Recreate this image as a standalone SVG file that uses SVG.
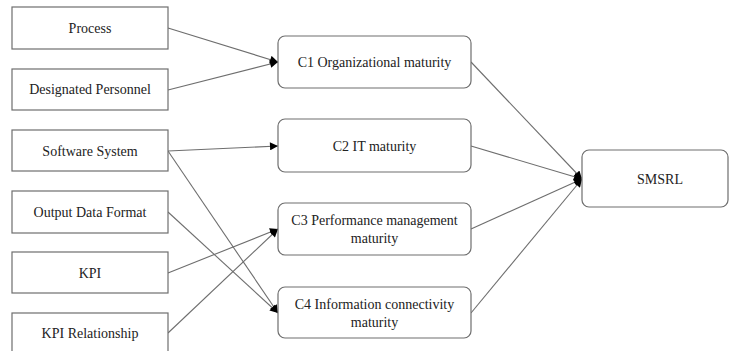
<svg xmlns="http://www.w3.org/2000/svg" width="729" height="351" viewBox="0 0 729 351">
<style>
.box{fill:#fff;stroke:#6e6e6e;stroke-width:1.2}
.t{font-family:'Liberation Serif','Times New Roman',serif;font-size:14px;fill:#222;text-anchor:middle}
.c{stroke:#6e6e6e;stroke-width:1.1;fill:none;marker-end:url(#ah)}
</style>
<defs>
<marker id="ah" viewBox="0 0 10 10" refX="10" refY="5" markerWidth="10" markerHeight="8" markerUnits="userSpaceOnUse" orient="auto">
<path d="M0,0 L10,5 L0,10 z" fill="#000"/>
</marker>
</defs>
<rect width="729" height="351" fill="#fff"/>
<g id="connectors">
<line class="c" x1="168" y1="28" x2="278" y2="62"/>
<line class="c" x1="168" y1="90" x2="278" y2="62"/>
<line class="c" x1="168" y1="151" x2="278" y2="146"/>
<line class="c" x1="168" y1="151" x2="278" y2="313"/>
<line class="c" x1="168" y1="212" x2="278" y2="313"/>
<line class="c" x1="168" y1="273" x2="278" y2="229"/>
<line class="c" x1="168" y1="333" x2="278" y2="229"/>
<line class="c" x1="471" y1="62" x2="582" y2="179"/>
<line class="c" x1="471" y1="146" x2="582" y2="179"/>
<line class="c" x1="471" y1="229" x2="582" y2="179"/>
<line class="c" x1="471" y1="313" x2="582" y2="179"/>
</g>
<g id="process"><rect class="box" x="12" y="7" width="156" height="42"/><text class="t" x="90" y="33">Process</text></g>
<g id="designated-personnel"><rect class="box" x="12" y="69" width="156" height="41"/><text class="t" x="90" y="94">Designated Personnel</text></g>
<g id="software-system"><rect class="box" x="12" y="130" width="156" height="41"/><text class="t" x="90" y="156">Software System</text></g>
<g id="output-data-format"><rect class="box" x="12" y="191" width="156" height="42"/><text class="t" x="90" y="217">Output Data Format</text></g>
<g id="kpi"><rect class="box" x="12" y="252" width="156" height="41"/><text class="t" x="90" y="278">KPI</text></g>
<g id="kpi-relationship"><rect class="box" x="12" y="313" width="156" height="45"/><text class="t" x="90" y="338">KPI Relationship</text></g>
<g id="c1"><rect class="box" x="278" y="36" width="193" height="52" rx="7"/><text class="t" x="374.5" y="67">C1 Organizational maturity</text></g>
<g id="c2"><rect class="box" x="278" y="119" width="193" height="53" rx="7"/><text class="t" x="374.5" y="151">C2 IT maturity</text></g>
<g id="c3"><rect class="box" x="278" y="203" width="193" height="52" rx="7"/><text class="t" x="374.5" y="225">C3 Performance management</text><text class="t" x="374.5" y="243">maturity</text></g>
<g id="c4"><rect class="box" x="278" y="287" width="193" height="51" rx="7"/><text class="t" x="374.5" y="309">C4 Information connectivity</text><text class="t" x="374.5" y="327">maturity</text></g>
<g id="smsrl"><rect class="box" x="582" y="150" width="146" height="57" rx="7"/><text class="t" x="660" y="184">SMSRL</text></g>
</svg>
